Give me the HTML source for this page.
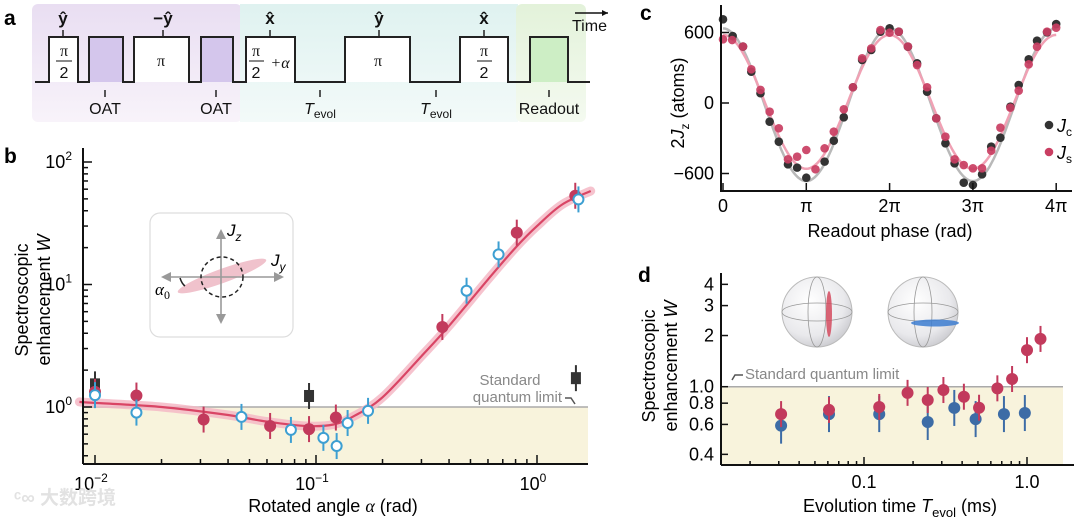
<!DOCTYPE html>
<html><head><meta charset="utf-8">
<style>
html,body{margin:0;padding:0;background:#fff;}
svg{display:block;font-family:"Liberation Sans","Noto Sans CJK SC",sans-serif;}
</style></head>
<body>
<svg id="fig" width="1080" height="519" viewBox="0 0 1080 519" xmlns="http://www.w3.org/2000/svg">
<defs>
  <linearGradient id="gPur" x1="0" y1="0" x2="0" y2="1"><stop offset="0" stop-color="#e9def2"/><stop offset="1" stop-color="#f8f3fa"/></linearGradient>
  <linearGradient id="gTeal" x1="0" y1="0" x2="0" y2="1"><stop offset="0" stop-color="#dff2f0"/><stop offset="1" stop-color="#f3faf9"/></linearGradient>
  <linearGradient id="gGrn" x1="0" y1="0" x2="0" y2="1"><stop offset="0" stop-color="#e3f2da"/><stop offset="1" stop-color="#f4faf0"/></linearGradient>
  <radialGradient id="gSph" cx="0.4" cy="0.35" r="0.7"><stop offset="0" stop-color="#ffffff"/><stop offset="0.7" stop-color="#e9e9ec"/><stop offset="1" stop-color="#c9c9ce"/></radialGradient>
</defs>

<!-- Panel a -->
<g>
  <text x="4" y="25" font-size="21" font-weight="bold">a</text>
  <rect x="32" y="4" width="210" height="118" rx="6" fill="url(#gPur)"/>
  <rect x="240" y="4" width="278" height="118" fill="url(#gTeal)"/>
  <rect x="516" y="4" width="70" height="118" rx="6" fill="url(#gGrn)"/>
  <rect x="89" y="37" width="34" height="45" fill="#d4c6ec"/>
  <rect x="201" y="37" width="32" height="45" fill="#d4c6ec"/>
  <rect x="530" y="37" width="38" height="45" fill="#cdeec5"/>
  <rect x="49" y="37" width="29" height="45" fill="#fff"/>
  <rect x="134" y="37" width="55" height="45" fill="#fff"/>
  <rect x="246" y="37" width="49" height="45" fill="#fff"/>
  <rect x="345" y="37" width="65" height="45" fill="#fff"/>
  <rect x="460" y="37" width="48" height="45" fill="#fff"/>
  <path d="M35 82 H49 V37 H78 V82 H89 V37 H123 V82 H134 V37 H189 V82 H201 V37 H233 V82 H246 V37 H295 V82 H345 V37 H410 V82 H460 V37 H508 V82 H530 V37 H568 V82 H590" fill="none" stroke="#222" stroke-width="2"/>
  <g stroke="#222" stroke-width="1.5">
    <line x1="63" y1="30" x2="63" y2="37"/><line x1="163" y1="30" x2="163" y2="37"/><line x1="270" y1="30" x2="270" y2="37"/><line x1="379" y1="30" x2="379" y2="37"/><line x1="484" y1="30" x2="484" y2="37"/>
    <line x1="105" y1="90" x2="105" y2="97"/><line x1="216" y1="90" x2="216" y2="97"/><line x1="320" y1="90" x2="320" y2="97"/><line x1="436" y1="90" x2="436" y2="97"/><line x1="549" y1="90" x2="549" y2="97"/>
  </g>
  <g font-size="17" font-weight="bold" text-anchor="middle" fill="#111">
    <text x="63" y="24">ŷ</text>
    <text x="163" y="24">−ŷ</text>
    <text x="270" y="24">x̂</text>
    <text x="379" y="24">ŷ</text>
    <text x="484" y="24">x̂</text>
  </g>
  <g font-size="16" text-anchor="middle" fill="#111" font-family="Liberation Serif, serif">
    <text x="64" y="56">π</text><line x1="56" y1="61" x2="72" y2="61" stroke="#111" stroke-width="1"/><text x="64" y="78" font-family="Liberation Sans, sans-serif">2</text>
    <text x="161" y="66">π</text>
    <text x="256" y="56">π</text><line x1="249" y1="61" x2="264" y2="61" stroke="#111" stroke-width="1"/><text x="256" y="78" font-family="Liberation Sans, sans-serif">2</text><text x="280" y="68" font-style="italic">+α</text>
    <text x="378" y="66">π</text>
    <text x="484" y="56">π</text><line x1="477" y1="61" x2="492" y2="61" stroke="#111" stroke-width="1"/><text x="484" y="78" font-family="Liberation Sans, sans-serif">2</text>
  </g>
  <g font-size="16" text-anchor="middle" fill="#111">
    <text x="105" y="114">OAT</text>
    <text x="216" y="114">OAT</text>
    <text x="320" y="114"><tspan font-style="italic">T</tspan><tspan font-size="12" dy="4">evol</tspan></text>
    <text x="436" y="114"><tspan font-style="italic">T</tspan><tspan font-size="12" dy="4">evol</tspan></text>
    <text x="549" y="114">Readout</text>
  </g>
  <line x1="575" y1="13" x2="608" y2="13" stroke="#111" stroke-width="1.5"/><path d="M608 13 l-6 -3 v6z" fill="#111"/>
  <text x="572" y="31" font-size="16" fill="#111">Time</text>
</g>

<!-- Panel b -->
<g id="pb">
  <text x="4" y="163" font-size="21" font-weight="bold">b</text>
</g>
<!-- Panel c -->
<g id="pc">
  <text x="640" y="20" font-size="21" font-weight="bold">c</text>
</g>
<!-- Panel d -->
<g id="pd">
  <text x="638" y="282" font-size="21" font-weight="bold">d</text>
</g>
<text x="14" y="504" font-size="19" fill="#e2e2e2" font-weight="bold">ᶜ∞ 大数跨境</text>
</svg>

<script>
// ---------- Panel b data ----------
const bRedAlpha = [0.01, 0.0154, 0.031, 0.062, 0.093, 0.123, 0.373, 0.81, 1.49];
const bRedW     = [1.33, 1.24, 0.79, 0.70, 0.66, 0.82, 4.5, 26.5, 53];
const bBlueAlpha = [0.01, 0.0154, 0.046, 0.077, 0.108, 0.124, 0.139, 0.172, 0.48, 0.67, 1.54];
const bBlueW     = [1.25, 0.90, 0.83, 0.65, 0.56, 0.48, 0.74, 0.93, 8.9, 17.6, 49.5];
const bBlackAlpha = [0.01, 0.093, 1.5];
const bBlackW     = [1.53, 1.23, 1.72];
const bFitAlpha = [0.0085, 0.01, 0.02, 0.04, 0.06, 0.09, 0.12, 0.15, 0.2, 0.3, 0.4, 0.6, 0.8, 1.0, 1.3, 1.75];
const bFitW     = [1.1, 1.08, 1.0, 0.86, 0.76, 0.70, 0.72, 0.85, 1.2, 2.6, 4.6, 11, 20, 30, 45, 58];
const bXTicks = [0.01, 0.1, 1];
const bXTickLabels = ["10", "10", "10"];
const bXTickExp = ["−2", "−1", "0"];
const bYTicks = [1, 10, 100];
const bYTickExp = ["0", "1", "2"];

// ---------- Panel c data ----------
const cBlackPhase = [0,0.116,0.24,0.34,0.45,0.56,0.67,0.78,0.89,1.0,1.22,1.33,1.45,1.56,1.67,1.78,1.89,2.0,2.11,2.22,2.33,2.45,2.56,2.67,2.78,2.89,3.0,3.11,3.22,3.33,3.45,3.55,3.67,3.77,3.89,4.0];
const cBlackVal   = [712,570,480,266,83,-159,-329,-522,-550,-636,-499,-321,-122,134,366,451,607,636,607,479,338,96,-130,-343,-513,-678,-698,-607,-372,-295,-31,153,372,530,601,672];
const cPinkPhase = [0,0.11,0.24,0.34,0.45,0.56,0.67,0.78,0.89,1.0,1.11,1.22,1.33,1.45,1.56,1.67,1.78,1.89,2.0,2.11,2.22,2.33,2.45,2.56,2.67,2.78,2.89,3.0,3.11,3.22,3.33,3.45,3.55,3.67,3.77,3.89,4.0];
const cPinkVal   = [542,536,480,287,111,-74,-215,-479,-457,-400,-564,-386,-244,-54,134,380,465,621,598,607,480,323,134,-130,-287,-479,-528,-556,-556,-406,-210,-40,105,329,479,607,641];
const cFitAmp = [650, 570];
const cFitOffset = [-15, 10];
const cXTicks = [0,1,2,3,4];
const cXTickLabels = ["0","π","2π","3π","4π"];
const cYTicks = [600,0,-600];
const cYTickLabels = ["600","0","−600"];

// ---------- Panel d data ----------
const dRedT = [0.031,0.061,0.124,0.185,0.246,0.307,0.41,0.508,0.658,0.81,1.0,1.21];
const dRedW = [0.69,0.73,0.76,0.92,0.835,0.956,0.873,0.752,0.978,1.11,1.64,1.91];
const dBlueT = [0.031,0.061,0.124,0.246,0.358,0.484,0.722,0.97];
const dBlueW = [0.59,0.69,0.69,0.62,0.75,0.645,0.69,0.70];
const dXTicks = [0.1, 1.0];
const dXTickLabels = ["0.1","1.0"];
const dYTicks = [0.4,0.6,0.8,1.0,2,3,4];
const dYTickLabels = ["0.4","0.6","0.8","1.0","2","3","4"];

const NS = "http://www.w3.org/2000/svg";
function mk(parent, tag, attrs, text){
  const e = document.createElementNS(NS, tag);
  for (const k in attrs) e.setAttribute(k, attrs[k]);
  if (text !== undefined) e.textContent = text;
  parent.appendChild(e);
  return e;
}
function smooth(pts){
  let d = "M" + pts[0][0].toFixed(1) + " " + pts[0][1].toFixed(1);
  for (let i=0;i<pts.length-1;i++){
    const p0=pts[Math.max(0,i-1)], p1=pts[i], p2=pts[i+1], p3=pts[Math.min(pts.length-1,i+2)];
    const c1=[p1[0]+(p2[0]-p0[0])/6, p1[1]+(p2[1]-p0[1])/6];
    const c2=[p2[0]-(p3[0]-p1[0])/6, p2[1]-(p3[1]-p1[1])/6];
    d += " C"+c1[0].toFixed(1)+" "+c1[1].toFixed(1)+" "+c2[0].toFixed(1)+" "+c2[1].toFixed(1)+" "+p2[0].toFixed(1)+" "+p2[1].toFixed(1);
  }
  return d;
}
const L = Math.log10;

// ===== Panel b =====
(function(){
  const g = document.getElementById("pb");
  const bx = v => 95 + (L(v)+2)*221;
  const by = v => 407 - L(v)*122.5;
  const x0=83, x1=588, yb=464, yt=148;
  let e;
  e = mk(g,"rect",{x:x0,y:by(1),width:x1-x0,height:yb-by(1),fill:"#f8f3dc"});
  
  
  e = mk(g,"line",{x1:x0,y1:by(1),x2:x1,y2:by(1),stroke:"#aaa","stroke-width":1.5});
  
  
  const ins = mk(g,"g",{});
  
  
  mk(ins,"rect",{x:150,y:213,width:143,height:124,rx:10,fill:"#fff",stroke:"#ddd","stroke-width":1.2});
  mk(ins,"ellipse",{cx:222,cy:276,rx:47,ry:7,fill:"#f0c2cc",transform:"rotate(-20 222 276)"});
  mk(ins,"line",{x1:221,y1:236,x2:221,y2:318,stroke:"#999","stroke-width":1.6});
  mk(ins,"path",{d:"M221 229 l-5 10 h10z M221 324 l-5 -10 h10z",fill:"#999"});
  mk(ins,"line",{x1:167,y1:277,x2:277,y2:277,stroke:"#999","stroke-width":1.6});
  mk(ins,"path",{d:"M161 277 l10 -5 v10z M284 277 l-10 -5 v10z",fill:"#999"});
  mk(ins,"ellipse",{cx:222,cy:277,rx:21,ry:20,fill:"none",stroke:"#222","stroke-width":1.5,"stroke-dasharray":"4 3"});
  mk(ins,"path",{d:"M180 278 q2 6 5 8",fill:"none",stroke:"#222","stroke-width":1.5});
  const jz = mk(ins,"text",{x:227,y:236,"font-size":17,"font-style":"italic"},"J"); mk(jz,"tspan",{"font-size":12,dy:5},"z");
  const jy = mk(ins,"text",{x:271,y:266,"font-size":17,"font-style":"italic"},"J"); mk(jy,"tspan",{"font-size":12,dy:5},"y");
  const a0 = mk(ins,"text",{x:155,y:295,"font-size":17,"font-style":"italic","font-family":"Liberation Serif, serif"},"α"); mk(a0,"tspan",{"font-size":12,dy:4,"font-style":"normal"},"0");
  const fp = bFitAlpha.map((a,i)=>[bx(a),by(bFitW[i])]);
  e = mk(g,"path",{d:smooth(fp),fill:"none",stroke:"#f4b8c6","stroke-width":9,"stroke-linecap":"round",opacity:0.85});
  
  
  e = mk(g,"path",{d:smooth(fp),fill:"none",stroke:"#d94565","stroke-width":2.2});
  
  
  mk(g,"line",{x1:x0,y1:yt,x2:x0,y2:yb,stroke:"#111","stroke-width":2});
  mk(g,"line",{x1:x0,y1:yb,x2:x1,y2:yb,stroke:"#111","stroke-width":2});
  for (let d=-2; d<=0; d++) for (let m=1;m<=9;m++){
    const v=m*Math.pow(10,d); const x=bx(v); if (x<x0||x>x1) continue;
    mk(g,"line",{x1:x,y1:yb,x2:x,y2:yb-(m===1?9:5),stroke:"#111","stroke-width":1.5});
  }
  for (let d=-1; d<=1; d++) for (let m=1;m<=9;m++){
    const v=m*Math.pow(10,d); const y=by(v); if (y>yb||y<yt) continue;
    mk(g,"line",{x1:x0,y1:y,x2:x0+(m===1?9:5),y2:y,stroke:"#111","stroke-width":1.5});
  }
  mk(g,"line",{x1:x0,y1:by(100),x2:x0+9,y2:by(100),stroke:"#111","stroke-width":1.5});
  bXTicks.forEach((v,i)=>{
    const t = mk(g,"text",{x:bx(v)-4,y:490,"font-size":18,"text-anchor":"middle"},bXTickLabels[i]);
    mk(t,"tspan",{"font-size":12,dy:-8},bXTickExp[i]);
    
    
  });
  bYTicks.forEach((v,i)=>{
    const t = mk(g,"text",{x:72,y:by(v)+6,"font-size":18,"text-anchor":"end"},"10");
    mk(t,"tspan",{"font-size":12,dy:-8},bYTickExp[i]);
    
    
  });
  function pt(a,w,type){
    const x=bx(a), y=by(w);
    const col = type==="red"?"#c23a5c":(type==="blue"?"#3d9fd2":"#333");
    mk(g,"line",{x1:x,y1:y-13,x2:x,y2:y+13,stroke:col,"stroke-width":2});
    let m;
    if (type==="red") m = mk(g,"circle",{cx:x,cy:y,r:6,fill:col});
    else if (type==="blue") m = mk(g,"circle",{cx:x,cy:y,r:5,fill:"#fff",stroke:col,"stroke-width":2});
    else m = mk(g,"rect",{x:x-5,y:y-6,width:10,height:12,fill:col});
    return m;
  }
  bBlackAlpha.forEach((a,i)=>{ const m=pt(a,bBlackW[i],"black");
    
     });
  bRedAlpha.forEach((a,i)=>{ const m=pt(a,bRedW[i],"red");
    
     });
  bBlueAlpha.forEach((a,i)=>{ const m=pt(a,bBlueW[i],"blue");
    
     });
  e = mk(g,"text",{x:510,y:385,"font-size":15,"text-anchor":"middle",fill:"#888"},"Standard");
  
  
  mk(g,"text",{x:562,y:402,"font-size":15,"text-anchor":"end",fill:"#888"},"quantum limit");
  mk(g,"path",{d:"M565 398 h6 l4 6",fill:"none",stroke:"#555","stroke-width":1.5});
  e = mk(g,"text",{x:333,y:512,"font-size":18,"text-anchor":"middle"},"Rotated angle ");
  mk(e,"tspan",{"font-style":"italic","font-family":"Liberation Serif, serif"},"α");
  mk(e,"tspan",{},"  (rad)");
  
  
  e = mk(g,"text",{transform:"translate(28 300) rotate(-90)","font-size":18,"text-anchor":"middle"},"Spectroscopic");
  
  
  e = mk(g,"text",{transform:"translate(50 300) rotate(-90)","font-size":18,"text-anchor":"middle"},"enhancement ");
  mk(e,"tspan",{"font-style":"italic"},"W");
})();

// ===== Panel c =====
(function(){
  const g = document.getElementById("pc");
  const cx = p => 723 + p*83.3;
  const cy = v => 103 - v*0.1175;
  let e;
  const colors=["#b9b9b9","#f0a1b4"];
  cFitAmp.forEach((A,k)=>{
    const pts=[];
    for (let i=0;i<=160;i++){ const p=i/40; pts.push([cx(p), cy(A*Math.cos(Math.PI*p)+cFitOffset[k])]); }
    e = mk(g,"path",{d:"M"+pts.map(q=>q[0].toFixed(1)+" "+q[1].toFixed(1)).join(" L"),fill:"none",stroke:colors[k],"stroke-width":2.5});
    
    
  });
  cBlackPhase.forEach((p,i)=>{
    const m=mk(g,"circle",{cx:cx(p),cy:cy(cBlackVal[i]),r:4.3,fill:"#333"});
    
    
  });
  cPinkPhase.forEach((p,i)=>{
    const m=mk(g,"circle",{cx:cx(p),cy:cy(cPinkVal[i]),r:4.3,fill:"#c93e62",opacity:0.92});
    
    
  });
  mk(g,"line",{x1:721,y1:5,x2:721,y2:191,stroke:"#111","stroke-width":2});
  mk(g,"line",{x1:720,y1:191,x2:1072,y2:191,stroke:"#111","stroke-width":2});
  cXTicks.forEach((p,i)=>{
    mk(g,"line",{x1:cx(p),y1:191,x2:cx(p),y2:183,stroke:"#111","stroke-width":1.5});
    const t=mk(g,"text",{x:cx(p),y:212,"font-size":18,"text-anchor":"middle"},cXTickLabels[i]);
    
    
  });
  cYTicks.forEach((v,i)=>{
    mk(g,"line",{x1:721,y1:cy(v),x2:729,y2:cy(v),stroke:"#111","stroke-width":1.5});
    const t=mk(g,"text",{x:714,y:cy(v)+6,"font-size":18,"text-anchor":"end"},cYTickLabels[i]);
    
    
  });
  e=mk(g,"text",{x:890,y:237,"font-size":18,"text-anchor":"middle"},"Readout phase (rad)");
  
  
  e=mk(g,"text",{transform:"translate(684 103) rotate(-90)","font-size":18,"text-anchor":"middle"},"2");
  mk(e,"tspan",{"font-style":"italic"},"J");
  mk(e,"tspan",{"font-size":12,dy:5},"z");
  mk(e,"tspan",{dy:-5},"  (atoms)");
  
  
  const lg=mk(g,"g",{});
  
  
  mk(lg,"circle",{cx:1049,cy:125,r:4.3,fill:"#333"});
  let t=mk(lg,"text",{x:1057,y:132,"font-size":18,"font-style":"italic"},"J"); mk(t,"tspan",{"font-size":12,dy:4,"font-style":"normal"},"c");
  mk(lg,"circle",{cx:1049,cy:152,r:4.3,fill:"#c93e62"});
  t=mk(lg,"text",{x:1057,y:159,"font-size":18,"font-style":"italic"},"J"); mk(t,"tspan",{"font-size":12,dy:4,"font-style":"normal"},"s");
})();

// ===== Panel d =====
(function(){
  const g = document.getElementById("pd");
  const dx = t => 1027 + L(t)*163;
  const dy = w => 386.7 - L(w)*170;
  const x0=721, x1=1074, yb=465, yt=273;
  let e;
  e=mk(g,"rect",{x:x0,y:dy(1),width:1063-x0,height:yb-dy(1),fill:"#f8f3dc"});
  
  
  e=mk(g,"line",{x1:x0,y1:dy(1),x2:1063,y2:dy(1),stroke:"#aaa","stroke-width":1.5});
  
  
  [[817,"red"],[923,"blue"]].forEach(([c,k])=>{
    const s=mk(g,"g",{});
    
    
    mk(s,"circle",{cx:c,cy:312,r:35,fill:"url(#gSph)",stroke:"#bbb","stroke-width":1});
    mk(s,"ellipse",{cx:c,cy:312,rx:35,ry:9,fill:"none",stroke:"#999","stroke-width":0.8});
    mk(s,"ellipse",{cx:c,cy:312,rx:9,ry:35,fill:"none",stroke:"#999","stroke-width":0.8});
    if (k==="red") mk(s,"ellipse",{cx:c+12,cy:314,rx:3,ry:23,fill:"#d44a5e",opacity:0.85});
    else mk(s,"ellipse",{cx:c+12,cy:323,rx:24,ry:3.5,fill:"#3c7dd0",opacity:0.85});
  });
  mk(g,"line",{x1:x0,y1:yt,x2:x0,y2:yb,stroke:"#111","stroke-width":2});
  mk(g,"line",{x1:x0,y1:yb,x2:x1,y2:yb,stroke:"#111","stroke-width":2});
  for (let d=-2; d<=0; d++) for (let m=1;m<=9;m++){
    const v=m*Math.pow(10,d); const x=dx(v); if (x<x0+2||x>x1) continue;
    mk(g,"line",{x1:x,y1:yb,x2:x,y2:yb-(m===1?8:4),stroke:"#111","stroke-width":1.5});
  }
  dXTicks.forEach((v,i)=>{
    const t=mk(g,"text",{x:dx(v),y:488,"font-size":18,"text-anchor":"middle"},dXTickLabels[i]);
    
    
  });
  dYTicks.forEach((v,i)=>{
    mk(g,"line",{x1:x0,y1:dy(v),x2:x0+7,y2:dy(v),stroke:"#111","stroke-width":1.5});
    const t=mk(g,"text",{x:714,y:dy(v)+6,"font-size":18,"text-anchor":"end"},dYTickLabels[i]);
    
    
  });
  function pt(t,w,col,eb){
    const x=dx(t), y=dy(w);
    mk(g,"line",{x1:x,y1:y-eb,x2:x,y2:y+eb,stroke:col,"stroke-width":2});
    return mk(g,"circle",{cx:x,cy:y,r:6,fill:col});
  }
  dBlueT.forEach((t,i)=>{ const m=pt(t,dBlueW[i],"#3d6ca6",18);
    
     });
  dRedT.forEach((t,i)=>{ const m=pt(t,dRedW[i],"#c23a5c",13);
    
     });
  e=mk(g,"text",{x:745,y:379,"font-size":15,fill:"#888"},"Standard quantum limit");
  
  
  mk(g,"path",{d:"M732 380 l3 -5 h8",fill:"none",stroke:"#555","stroke-width":1.5});
  e=mk(g,"text",{x:900,y:512,"font-size":18,"text-anchor":"middle"},"Evolution time ");
  mk(e,"tspan",{"font-style":"italic"},"T");
  mk(e,"tspan",{"font-size":13,dy:5},"evol");
  mk(e,"tspan",{dy:-5}," (ms)");
  
  
  e=mk(g,"text",{transform:"translate(655 366) rotate(-90)","font-size":18,"text-anchor":"middle"},"Spectroscopic");
  
  
  e=mk(g,"text",{transform:"translate(677 366) rotate(-90)","font-size":18,"text-anchor":"middle"},"enhancement ");
  mk(e,"tspan",{"font-style":"italic"},"W");
})();
</script>
</body></html>
